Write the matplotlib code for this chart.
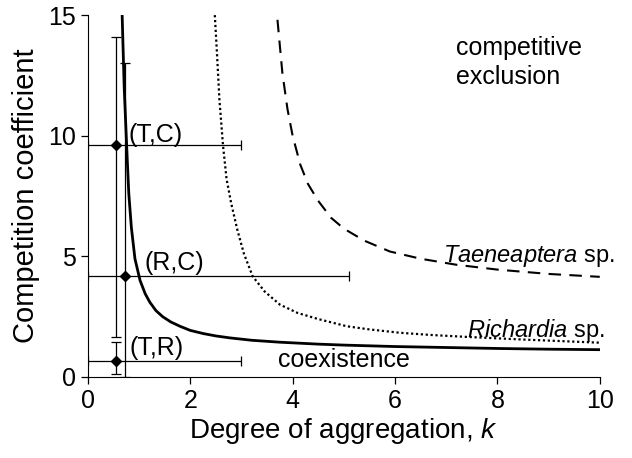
import matplotlib
matplotlib.use("Agg")
import matplotlib.pyplot as plt
import numpy as np

plt.rcParams['font.family'] = ['Liberation Sans', 'DejaVu Sans']
plt.rcParams['mathtext.fontset'] = 'custom'
plt.rcParams['mathtext.rm'] = 'Liberation Sans'
plt.rcParams['mathtext.it'] = 'Liberation Sans:italic'

# boundary curves (k, alpha)
solid_k = [0.67, 0.69, 0.71, 0.74, 0.77, 0.80, 0.85, 0.92, 1.02, 1.12, 1.21, 1.33,
           1.46, 1.62, 1.80, 2.0, 2.25, 2.5, 2.77, 3.2, 3.75, 4.5, 5.0, 6.0, 7.0,
           8.0, 9.0, 10.0]
solid_a = [15, 13.5, 12, 10.5, 9.0, 7.6, 6.2, 4.9, 4.0, 3.45, 3.1, 2.75,
           2.5, 2.28, 2.1, 1.93, 1.8, 1.7, 1.62, 1.52, 1.44, 1.36, 1.32, 1.26, 1.22,
           1.18, 1.15, 1.13]

richardia_k = [2.48, 2.52, 2.57, 2.64, 2.71, 2.8, 2.92, 3.05, 3.22, 3.45, 3.75,
               4.1, 4.5, 5.06, 5.5, 6.1, 6.7, 7.4, 8.5, 10]
richardia_a = [15, 13.5, 11.5, 9.6, 8.2, 7.2, 6.1, 5.1, 4.17, 3.55, 3.0,
               2.65, 2.4, 2.1, 1.97, 1.83, 1.74, 1.66, 1.55, 1.42]

taen_k = [3.65, 3.7, 3.8, 3.9, 4.0, 4.15, 4.3, 4.5, 4.75, 5.0, 5.4, 5.9, 6.5,
          7.2, 8.0, 9.0, 10]
taen_a = [16.5, 14.9, 12.6, 11.1, 10.0, 8.8, 8.0, 7.3, 6.6, 6.15, 5.65, 5.2, 4.9,
          4.65, 4.45, 4.27, 4.15]

# species pairs: estimates with confidence limits
pair_labels = ['(T,C)', '(R,C)', '(T,R)']
pair_k = [0.55, 0.72, 0.55]
pair_k_lo = [0.0, 0.0, 0.0]
pair_k_hi = [3.0, 5.1, 3.0]
pair_a = [9.6, 4.2, 0.65]
pair_a_lo = [1.65, 0.0, 0.12]
pair_a_hi = [14.1, 13.0, 1.45]

fig = plt.figure(figsize=(6.32, 4.58), dpi=100)
ax = fig.add_axes([0.139, 0.177, 0.81, 0.79])

ax.plot(solid_k, solid_a, color='black', lw=2.0)
ax.plot(richardia_k, richardia_a, color='black', lw=1.6, linestyle=(0, (1, 1.2)))
ax.plot(taen_k, taen_a, color='black', lw=1.5, linestyle=(0, (6, 4)))

for i in range(len(pair_k)):
    xerr = [[pair_k[i] - pair_k_lo[i]], [pair_k_hi[i] - pair_k[i]]]
    yerr = [[pair_a[i] - pair_a_lo[i]], [pair_a_hi[i] - pair_a[i]]]
    ax.errorbar([pair_k[i]], [pair_a[i]], xerr=xerr, yerr=yerr, fmt='D',
                color='black', ms=5.5, elinewidth=0.9, capsize=3.5, capthick=0.9)

ax.text(0.8, 9.75, pair_labels[0], fontsize=18)
ax.text(1.11, 4.45, pair_labels[1], fontsize=18)
ax.text(0.82, 0.92, pair_labels[2], fontsize=18)

ax.text(7.2, 14.15, 'competitive\nexclusion', fontsize=18, va='top', linespacing=1.3)
ax.text(3.72, 0.4, 'coexistence', fontsize=18)
ax.text(6.93, 4.75, r'$\mathit{Taeneaptera}$ sp.', fontsize=17)
ax.text(7.4, 1.67, r'$\mathit{Richardia}$ sp.', fontsize=17)

ax.set_xlim(0, 10)
ax.set_ylim(0, 15)
ax.set_xticks([0, 2, 4, 6, 8, 10])
ax.set_yticks([0, 5, 10, 15])
ax.spines['top'].set_visible(False)
ax.spines['right'].set_visible(False)
ax.tick_params(labelsize=18, length=5, width=0.9)
ax.set_xlabel(r'Degree of aggregation, $\mathit{k}$', fontsize=20, labelpad=2)
ax.set_ylabel('Competition coefficient', fontsize=21, labelpad=6)

fig.savefig('out.png', dpi=100)
